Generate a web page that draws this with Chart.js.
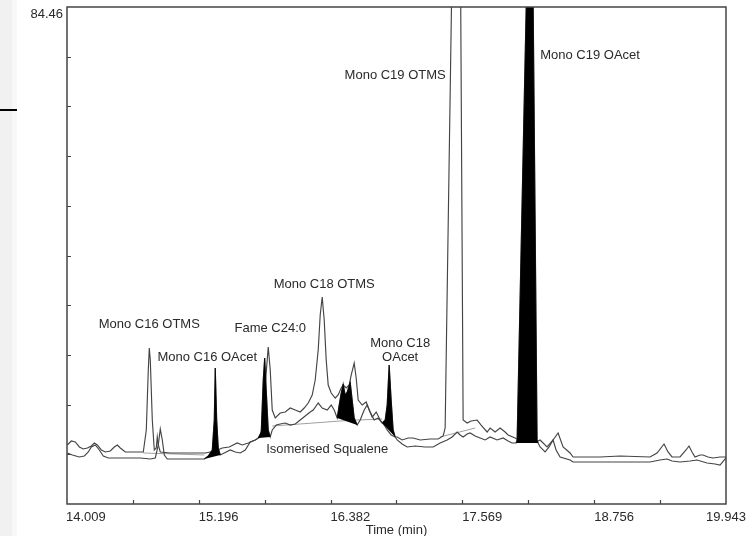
<!DOCTYPE html>
<html>
<head>
<meta charset="utf-8">
<script src="https://cdn.jsdelivr.net/npm/chart.js@4.4.1/dist/chart.umd.min.js"></script>
<style>
  html, body { margin: 0; padding: 0; background: #fff; }
  #wrap { position: relative; width: 754px; height: 536px; overflow: hidden; }
  #strip { position: absolute; left: 0; top: 0; width: 12px; height: 536px; background: #f1f1f1; }
  #strip2 { position: absolute; left: 12px; top: 0; width: 5px; height: 536px; background: #f8f8f8; }
  #mark { position: absolute; left: 0; top: 109px; width: 17px; height: 2px; background: #000; }
  canvas { position: absolute; left: 0; top: 0; }
</style>
</head>
<body>
<div id="wrap">
  <div id="strip"></div><div id="strip2"></div><div id="mark"></div>
  <canvas id="chart" width="754" height="536"></canvas>
</div>
<script>
// OTMS trace (upper, white peaks)
const timeA = [14.012, 14.048, 14.084, 14.120, 14.156, 14.192, 14.228, 14.255, 14.282, 14.318,
  14.354, 14.399, 14.435, 14.462, 14.489, 14.534, 14.624, 14.696, 14.723, 14.741,
  14.750, 14.759, 14.777, 14.795, 14.813, 14.822, 14.831, 14.849, 14.939, 15.074,
  15.209, 15.254, 15.344, 15.407, 15.470, 15.542, 15.587, 15.641, 15.704, 15.749,
  15.776, 15.794, 15.821, 15.839, 15.857, 15.884, 15.929, 15.974, 16.019, 16.064,
  16.109, 16.145, 16.181, 16.217, 16.244, 16.271, 16.289, 16.307, 16.325, 16.343,
  16.361, 16.388, 16.424, 16.451, 16.478, 16.496, 16.523, 16.550, 16.568, 16.595,
  16.613, 16.631, 16.667, 16.703, 16.730, 16.757, 16.793, 16.829, 16.865, 16.892,
  16.928, 16.964, 16.982, 17.027, 17.081, 17.126, 17.189, 17.279, 17.351, 17.396,
  17.414, 17.531, 17.576, 17.612, 17.648, 17.702, 17.738, 17.792, 17.819, 17.864,
  17.909, 17.954, 17.981, 18.044, 18.089, 18.134, 18.197, 18.251, 18.269, 18.332,
  18.386, 18.431, 18.476, 18.539, 18.566, 18.809, 18.989, 19.259, 19.322, 19.385,
  19.421, 19.457, 19.529, 19.583, 19.610, 19.637, 19.664, 19.709, 19.736, 19.781,
  19.826, 19.889, 19.943];
const signalA = [10.03, 10.71, 10.54, 9.69, 9.35, 9.52, 9.86, 10.37, 10.03, 9.18,
  8.84, 9.01, 9.69, 10.03, 9.52, 8.84, 8.84, 8.84, 12.58, 22.77,
  26.51, 24.47, 14.27, 9.18, 9.52, 11.39, 10.03, 8.84, 8.67, 8.67,
  8.67, 8.67, 9.01, 9.52, 9.69, 10.37, 10.03, 10.37, 10.88, 11.39,
  14.27, 20.22, 26.68, 22.77, 15.97, 14.61, 15.46, 15.63, 16.31, 15.97,
  15.63, 16.31, 17.16, 18.52, 21.07, 26.17, 32.12, 35.18, 31.27, 24.47,
  20.22, 18.86, 18.01, 18.52, 19.71, 20.22, 19.71, 20.22, 21.92, 23.96,
  21.41, 17.67, 16.82, 17.33, 15.97, 14.78, 15.63, 14.27, 13.42, 12.58,
  11.73, 11.39, 11.39, 10.88, 11.22, 11.22, 10.88, 11.05, 11.05, 11.56,
  12.91, 160.0, 14.27, 13.76, 14.10, 14.27, 13.42, 12.24, 12.91, 12.24,
  12.91, 12.24, 11.73, 11.22, 10.71, 10.54, 10.54, 10.71, 10.88, 9.69,
  10.88, 12.07, 9.69, 8.67, 7.99, 7.99, 8.16, 7.99, 8.67, 10.20,
  8.84, 7.99, 7.99, 9.18, 9.86, 8.84, 7.99, 8.33, 8.33, 7.99,
  7.82, 7.99, 7.99];

// OAcet trace (lower, black peaks)
const timeB = [14.012, 14.057, 14.120, 14.165, 14.201, 14.228, 14.264, 14.300, 14.336, 14.381,
  14.489, 14.669, 14.759, 14.804, 14.831, 14.849, 14.867, 14.885, 14.912, 15.029,
  15.164, 15.245, 15.281, 15.317, 15.335, 15.344, 15.357, 15.371, 15.389, 15.443,
  15.479, 15.524, 15.569, 15.614, 15.659, 15.704, 15.731, 15.758, 15.776, 15.789,
  15.803, 15.821, 15.839, 15.857, 15.893, 15.929, 15.974, 16.019, 16.064, 16.109,
  16.154, 16.199, 16.226, 16.271, 16.307, 16.352, 16.388, 16.415, 16.442, 16.460,
  16.478, 16.496, 16.514, 16.532, 16.559, 16.577, 16.595, 16.622, 16.649, 16.685,
  16.712, 16.739, 16.775, 16.811, 16.847, 16.874, 16.892, 16.910, 16.928, 16.946,
  16.964, 16.982, 17.027, 17.072, 17.144, 17.234, 17.306, 17.369, 17.432, 17.477,
  17.522, 17.549, 17.576, 17.612, 17.639, 17.684, 17.729, 17.774, 17.819, 17.882,
  17.936, 17.981, 18.017, 18.053, 18.062, 18.188, 18.242, 18.251, 18.269, 18.314,
  18.350, 18.386, 18.413, 18.449, 18.539, 18.566, 18.809, 18.989, 19.259, 19.349,
  19.412, 19.457, 19.529, 19.619, 19.682, 19.772, 19.844, 19.889, 19.943];
const signalB = [8.67, 8.33, 7.99, 8.16, 8.84, 9.69, 10.03, 9.18, 8.16, 7.82,
  7.82, 7.82, 7.65, 7.82, 10.03, 12.74, 10.88, 8.33, 7.65, 7.65,
  7.65, 7.65, 8.16, 9.18, 14.27, 23.11, 14.27, 9.52, 8.33, 8.84,
  9.18, 8.84, 8.67, 9.18, 10.54, 10.88, 11.22, 12.24, 21.07, 24.81,
  19.37, 12.58, 11.39, 12.58, 13.42, 13.59, 13.76, 13.42, 13.59, 14.27,
  14.95, 15.63, 15.97, 17.16, 16.31, 15.97, 16.82, 15.97, 14.61, 16.82,
  18.86, 20.39, 18.52, 19.03, 20.73, 17.67, 14.61, 13.42, 14.27, 15.97,
  16.82, 15.63, 14.27, 14.61, 13.76, 14.27, 16.82, 23.62, 17.67, 12.58,
  11.39, 10.88, 10.20, 9.69, 9.86, 9.69, 9.69, 10.37, 10.88, 11.39,
  12.24, 11.73, 11.39, 11.90, 12.07, 11.56, 11.22, 10.88, 11.39, 10.88,
  11.22, 10.71, 10.37, 10.37, 10.88, 124.2, 10.88, 10.37, 9.69, 8.84,
  9.69, 10.88, 9.18, 7.99, 7.47, 7.13, 7.13, 7.13, 7.13, 7.47,
  7.65, 7.30, 7.13, 7.30, 7.47, 6.96, 6.79, 6.62, 7.82];

// black filled OAcet peaks (start / end time on trace B)
const peakStart = [15.245, 15.731, 16.442, 16.847, 18.053];
const peakEnd = [15.389, 15.839, 16.622, 16.964, 18.251];

// light grey baseline under the squalene hump
const baselineTime = [14.696, 15.245, 15.500, 15.857, 16.469, 16.622, 16.847, 17.100, 17.369, 17.684];
const baselineSignal = [8.67, 8.33, null, 13.25, 14.10, 14.27, 14.44, null, 11.39, 12.91];

const xTickLabels = ["14.009", "15.196", "16.382", "17.569", "18.756", "19.943"];
const yMax = 84.46;
const yDivisions = 10;

const labelText = ["Mono C19 OTMS", "Mono C19 OAcet", "Mono C18 OTMS", "Mono C16 OTMS",
  "Fame C24:0", "Mono C16 OAcet", "Mono C18", "OAcet", "Isomerised Squalene"];
const labelTime = [16.964, 18.719, 16.325, 14.750, 15.839, 15.272, 17.009, 17.009, 16.352];
const labelSignal = [72.90, 76.30, 37.39, 30.59, 29.91, 24.98, 27.36, 24.98, 9.35];

const toPoints = (xs, ys) => xs.map((x, i) => ({ x: x, y: ys[i] }));

const peakSets = peakStart.map((s, k) => ({
  data: toPoints(timeB, signalB).filter((p) => p.x >= s && p.x <= peakEnd[k]),
  borderWidth: 0.6,
  borderColor: "#000",
  backgroundColor: "#000",
  fill: "shape",
}));

const FONT = "13px 'Liberation Sans', Arial, sans-serif";
const INK = "#2a2a2a";

const framePlugin = {
  id: "frame",
  afterDraw(chart) {
    const { ctx, chartArea: a, scales } = chart;
    const x = scales.x, y = scales.y;
    ctx.save();
    ctx.strokeStyle = "#444";
    ctx.lineWidth = 1.5;
    ctx.strokeRect(a.left, a.top, a.right - a.left, a.bottom - a.top);

    // inward ticks on the bottom axis
    ctx.lineWidth = 1.2;
    const major = xTickLabels.map(Number);
    const ticks = [];
    major.forEach((v, i) => {
      ticks.push(v);
      if (i < major.length - 1) ticks.push((v + major[i + 1]) / 2);
    });
    ctx.beginPath();
    ticks.slice(1, -1).forEach((v) => {
      const px = Math.round(x.getPixelForValue(v)) + 0.5;
      ctx.moveTo(px, a.bottom);
      ctx.lineTo(px, a.bottom - 4);
    });
    // inward ticks on the left axis
    for (let i = 1; i < yDivisions; i++) {
      const py = Math.round(y.getPixelForValue((yMax * i) / yDivisions)) + 0.5;
      ctx.moveTo(a.left, py);
      ctx.lineTo(a.left + 4, py);
    }
    ctx.stroke();

    ctx.fillStyle = INK;
    ctx.font = FONT;
    ctx.textBaseline = "middle";
    xTickLabels.forEach((t, i) => {
      const px = x.getPixelForValue(Number(t));
      ctx.textAlign = i === xTickLabels.length - 1 ? "center" : "left";
      ctx.fillText(t, px - (i === 0 ? 1 : 0), a.bottom + 13);
    });
    ctx.textAlign = "center";
    ctx.fillText("Time (min)", (a.left + a.right) / 2, a.bottom + 26);
    ctx.textAlign = "right";
    ctx.fillText(yMax.toFixed(2), a.left - 4, y.getPixelForValue(yMax) + 7);

    ctx.textAlign = "center";
    labelText.forEach((t, i) => {
      ctx.fillText(t, x.getPixelForValue(labelTime[i]), y.getPixelForValue(labelSignal[i]));
    });
    ctx.restore();
  },
};

new Chart(document.getElementById("chart"), {
  type: "line",
  data: {
    datasets: [
      ...peakSets,
      {
        data: toPoints(timeB, signalB),
        borderColor: "#444",
        borderWidth: 1.15,
        fill: false,
      },
      {
        data: toPoints(timeA, signalA),
        borderColor: "#444",
        borderWidth: 1.15,
        fill: false,
      },
      {
        data: toPoints(baselineTime, baselineSignal),
        borderColor: "#a0a0a0",
        borderWidth: 1,
        fill: false,
      },
    ],
  },
  options: {
    responsive: false,
    animation: false,
    layout: { padding: { left: 67, right: 28, top: 7, bottom: 32 } },
    plugins: { legend: { display: false }, tooltip: { enabled: false } },
    elements: { point: { radius: 0 }, line: { tension: 0 } },
    scales: {
      x: { type: "linear", min: 14.009, max: 19.943, display: false },
      y: { min: 0, max: yMax, display: false },
    },
  },
  plugins: [framePlugin],
});
</script>
</body>
</html>
